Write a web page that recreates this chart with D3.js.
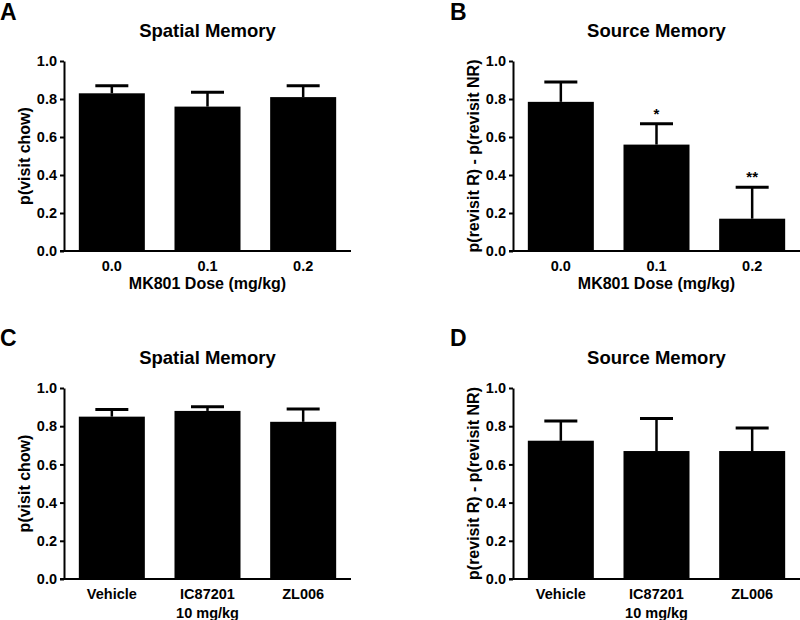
<!DOCTYPE html>
<html>
<head>
<meta charset="utf-8">
<script src="https://cdn.jsdelivr.net/npm/d3@7"></script>
<style>
  body { margin: 0; background: #fff; }
  svg { display: block; font-family: 'Liberation Sans', Arial, sans-serif; font-weight: bold; }
  .tick text { font-size: 14.5px; font-weight: bold; fill: #000; }
</style>
</head>
<body>
<div id="chart"></div>
<script>
// categories
const doseCats = ['0.0', '0.1', '0.2']
const drugCats = ['Vehicle', 'IC87201\n10 mg/kg', 'ZL006']
const yTicks = [0, 0.2, 0.4, 0.6, 0.8, 1.0]

// panel A - spatial memory, MK801
const spatialDoseMean = [0.83, 0.76, 0.81]
const spatialDoseSem = [0.04, 0.075, 0.06]

// panel B - source memory, MK801
const sourceDoseMean = [0.785, 0.56, 0.17]
const sourceDoseSem = [0.105, 0.11, 0.165]
const sourceDoseSig = ['', '*', '**']

// panel C - spatial memory, drugs
const spatialDrugMean = [0.85, 0.88, 0.823]
const spatialDrugSem = [0.038, 0.022, 0.067]

// panel D - source memory, drugs
const sourceDrugMean = [0.724, 0.67, 0.67]
const sourceDrugSem = [0.103, 0.17, 0.12]

const spatialLabel = 'p(visit chow)'
const sourceLabel = 'p(revisit R) - p(revisit NR)'
const doseTitle = 'MK801 Dose (mg/kg)'

const width = 800
const height = 620

const panels = [
  { letter: 'A', title: 'Spatial Memory', yLabel: spatialLabel, xTitle: doseTitle, cats: doseCats,
    mean: spatialDoseMean, sem: spatialDoseSem, sig: null, x0: 64, x1: 351, y0: 251, y1: 61, letterX: 0, letterY: 20 },
  { letter: 'B', title: 'Source Memory', yLabel: sourceLabel, xTitle: doseTitle, cats: doseCats,
    mean: sourceDoseMean, sem: sourceDoseSem, sig: sourceDoseSig, x0: 513, x1: 800, y0: 251, y1: 61, letterX: 450, letterY: 20 },
  { letter: 'C', title: 'Spatial Memory', yLabel: spatialLabel, xTitle: null, cats: drugCats,
    mean: spatialDrugMean, sem: spatialDrugSem, sig: null, x0: 64, x1: 351, y0: 579, y1: 388, letterX: 0, letterY: 346 },
  { letter: 'D', title: 'Source Memory', yLabel: sourceLabel, xTitle: null, cats: drugCats,
    mean: sourceDrugMean, sem: sourceDrugSem, sig: null, x0: 513, x1: 800, y0: 579, y1: 388, letterX: 450, letterY: 346 }
]

const svg = d3.select('#chart')
  .append('svg')
  .attr('width', width)
  .attr('height', height)

panels.forEach(p => {
  const g = svg.append('g')

  const rows = p.cats.map((c, i) => ({ cat: c, mean: p.mean[i], sem: p.sem[i], sig: p.sig ? p.sig[i] : '' }))

  const xScale = d3.scaleBand()
    .domain(p.cats)
    .range([p.x0, p.x1])
    .paddingInner(0.31)
    .paddingOuter(0.155)

  const yScale = d3.scaleLinear()
    .domain([0, 1])
    .range([p.y0, p.y1])

  // panel letter
  g.append('text')
    .text(p.letter)
    .attr('x', p.letterX)
    .attr('y', p.letterY)
    .attr('font-size', 23)
    .attr('fill', '#000')

  // title
  g.append('text')
    .text(p.title)
    .attr('x', (p.x0 + p.x1) / 2)
    .attr('y', p.y1 - 24)
    .attr('text-anchor', 'middle')
    .attr('font-size', 18.5)
    .attr('fill', '#000')

  // bars
  g.selectAll('rect.bar')
    .data(rows)
    .enter()
    .append('rect')
    .attr('class', 'bar')
    .attr('x', d => xScale(d.cat))
    .attr('y', d => yScale(d.mean))
    .attr('width', xScale.bandwidth())
    .attr('height', d => yScale(0) - yScale(d.mean))
    .attr('fill', '#000')

  // error bars (upper only)
  const cx = d => xScale(d.cat) + xScale.bandwidth() / 2
  const capW = xScale.bandwidth() * 0.5

  g.selectAll('line.err')
    .data(rows)
    .enter()
    .append('line')
    .attr('class', 'err')
    .attr('x1', cx)
    .attr('x2', cx)
    .attr('y1', d => yScale(d.mean))
    .attr('y2', d => yScale(d.mean + d.sem))
    .attr('stroke', '#000')
    .attr('stroke-width', 2.5)

  g.selectAll('line.cap')
    .data(rows)
    .enter()
    .append('line')
    .attr('class', 'cap')
    .attr('x1', d => cx(d) - capW / 2)
    .attr('x2', d => cx(d) + capW / 2)
    .attr('y1', d => yScale(d.mean + d.sem))
    .attr('y2', d => yScale(d.mean + d.sem))
    .attr('stroke', '#000')
    .attr('stroke-width', 3)

  // significance marks
  g.selectAll('text.sig')
    .data(rows.filter(d => d.sig))
    .enter()
    .append('text')
    .attr('class', 'sig')
    .text(d => d.sig)
    .attr('x', cx)
    .attr('y', d => yScale(d.mean + d.sem) - 5)
    .attr('text-anchor', 'middle')
    .attr('font-size', 15)
    .attr('fill', '#000')

  // axes
  const yAxis = d3.axisLeft(yScale)
    .tickValues(yTicks)
    .tickFormat(d3.format('.1f'))
    .tickSize(4)
    .tickSizeOuter(0)
    .tickPadding(3)

  const yG = g.append('g')
    .attr('transform', `translate(${p.x0}, 0)`)
    .call(yAxis)
  yG.selectAll('path, line').attr('stroke', '#000').attr('stroke-width', 2)

  const xAxis = d3.axisBottom(xScale)
    .tickSize(0)
    .tickSizeOuter(0)
    .tickPadding(0)
    .tickFormat('')

  const xG = g.append('g')
    .attr('transform', `translate(0, ${p.y0})`)
    .call(xAxis)
  xG.select('.domain')
    .attr('d', `M${p.x0 - 4},0H${p.x1}`)
    .attr('stroke', '#000')
    .attr('stroke-width', 2)

  // category labels, split on newline
  xG.selectAll('.tick text')
    .each(function (d) {
      const t = d3.select(this)
      t.text(null).attr('y', 0).attr('dy', null)
      d.split('\n').forEach((line, i) => {
        t.append('tspan')
          .attr('x', 0)
          .attr('y', 20 + i * 19)
          .text(line)
      })
    })

  if (p.xTitle) {
    g.append('text')
      .text(p.xTitle)
      .attr('x', (p.x0 + p.x1) / 2)
      .attr('y', p.y0 + 38)
      .attr('text-anchor', 'middle')
      .attr('font-size', 16)
      .attr('fill', '#000')
  }

  // y axis label
  g.append('text')
    .text(p.yLabel)
    .attr('transform', `translate(${p.x0 - 34}, ${(p.y0 + p.y1) / 2}) rotate(-90)`)
    .attr('text-anchor', 'middle')
    .attr('font-size', 16)
    .attr('fill', '#000')
})
</script>
</body>
</html>
